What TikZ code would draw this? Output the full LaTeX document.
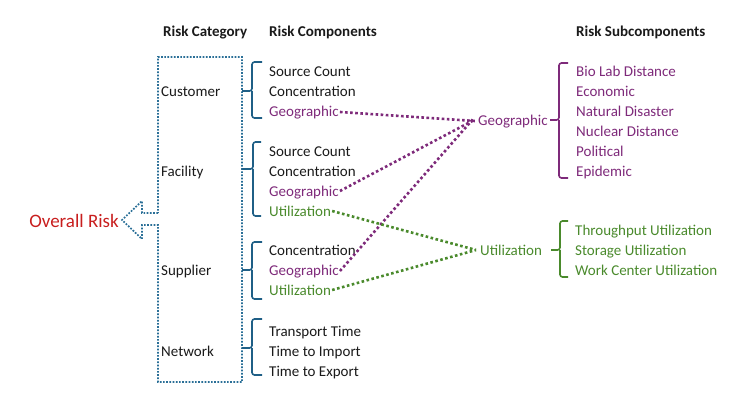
\documentclass[tikz,border=0pt]{standalone}
\usepackage{fontspec}
\setmainfont{Carlito}
\definecolor{boxblue}{HTML}{2A6F97}
\definecolor{braceblue}{HTML}{1F5F86}
\definecolor{geopurple}{HTML}{7E2A7A}
\definecolor{utilgreen}{HTML}{4A8A2C}
\definecolor{riskred}{HTML}{C81E1E}
\definecolor{txt}{HTML}{1A1A1A}
\tikzset{
  lbl/.style={anchor=west, inner sep=0pt, text height=13pt, text depth=1pt, font=\fontsize{15}{17}\selectfont, text=txt},
  hdr/.style={anchor=west, inner sep=0pt, text height=13pt, text depth=1pt, font=\fontsize{15}{17}\selectfont\bfseries, text=txt},
  geo/.style={lbl, text=geopurple},
  util/.style={lbl, text=utilgreen},
  purpdot/.style={draw=geopurple, line width=2.6pt, dash pattern=on 2.6pt off 2.5pt},
  greendot/.style={draw=utilgreen, line width=2.6pt, dash pattern=on 2.6pt off 2.5pt},
  boxdot/.style={draw=boxblue, line width=1.7pt, dash pattern=on 1.7pt off 1.5pt},
  bracestyle/.style={line width=1.6pt, rounded corners=2.5pt},
}
\newcommand{\mybrace}[7]{% color, tipx, vx, hookx, top, mid, bottom
  \draw[bracestyle, draw=#1] (#4,#5) -- (#3,#5) -- (#3,#6) -- (#2,#6);
  \draw[bracestyle, draw=#1] (#4,#7) -- (#3,#7) -- (#3,#6);
}
\begin{document}
\begin{tikzpicture}[x=1pt,y=-1pt]
\useasboundingbox (0,0) rectangle (740,401);
% headers
\node[hdr] (hcat) at (163,31) {Risk Category};
\node[hdr] (hcomp) at (269,31) {Risk Components};
\node[hdr] (hsub) at (576,31) {Risk Subcomponents};
% box with arrow
\draw[boxdot] (158,213) -- (142,213) -- (142,201) -- (122,220) -- (142,239) -- (142,225) -- (158,225) -- (158,382) -- (242,382) -- (242,57) -- (158,57) -- cycle;
\node[lbl, anchor=east, text=riskred, font=\fontsize{19}{21}\selectfont, text height=14pt, text depth=1pt] (overall) at (119,221) {Overall Risk};
% categories
\node[lbl] (customer) at (161,91) {Customer};
\node[lbl] (facility) at (161,171) {Facility};
\node[lbl] (supplier) at (161,270) {Supplier};
\node[lbl] (network) at (161,350) {Network};
% components
\node[lbl] (c1) at (269,71) {Source Count};
\node[lbl] (c2) at (269,91) {Concentration};
\node[geo] (cgeo) at (269,111) {Geographic};
\node[lbl] (f1) at (269,151) {Source Count};
\node[lbl] (f2) at (269,171) {Concentration};
\node[geo] (fgeo) at (269,191) {Geographic};
\node[util] (futil) at (269,211) {Utilization};
\node[lbl] (s1) at (269,250) {Concentration};
\node[geo] (sgeo) at (269,270) {Geographic};
\node[util] (sutil) at (269,290) {Utilization};
\node[lbl] (n1) at (269,330) {Transport Time};
\node[lbl] (n2) at (269,350) {Time to Import};
\node[lbl] (n3) at (269,370) {Time to Export};
% hubs
\node[geo] (geohub) at (478,120) {Geographic};
\node[util] (utilhub) at (480,250) {Utilization};
% subcomponents
\node[geo] (g1) at (576,71) {Bio Lab Distance};
\node[geo] (g2) at (576,91) {Economic};
\node[geo] (g3) at (576,111) {Natural Disaster};
\node[geo] (g4) at (576,131) {Nuclear Distance};
\node[geo] (g5) at (576,151) {Political};
\node[geo] (g6) at (576,171) {Epidemic};
\node[util] (u1) at (575,230) {Throughput Utilization};
\node[util] (u2) at (575,250) {Storage Utilization};
\node[util] (u3) at (575,270) {Work Center Utilization};
% braces
\mybrace{braceblue}{242}{252}{262}{62}{91}{118}
\mybrace{braceblue}{242}{253}{261}{142}{169}{216}
\mybrace{braceblue}{242}{252}{262}{242}{270}{299}
\mybrace{braceblue}{242}{252}{262}{319}{348}{375}
\mybrace{geopurple}{550}{559}{568}{63}{120}{178}
\mybrace{utilgreen}{551}{560}{568}{221}{250}{277}
% connectors
\draw[purpdot] ([xshift=1pt,yshift=-1pt]cgeo.east) -- ([xshift=-3pt,yshift=-1pt]geohub.west);
\draw[purpdot] ([xshift=1pt]fgeo.east) -- ([xshift=-4pt,yshift=0pt]geohub.west);
\draw[purpdot] ([xshift=1pt,yshift=-1pt]sgeo.east) -- ([xshift=-4pt,yshift=2pt]geohub.west);
\draw[greendot] ([xshift=1pt]futil.east) -- ([xshift=-4pt]utilhub.west);
\draw[greendot] ([xshift=1pt]sutil.east) -- ([xshift=-4pt]utilhub.west);
\end{tikzpicture}
\end{document}
